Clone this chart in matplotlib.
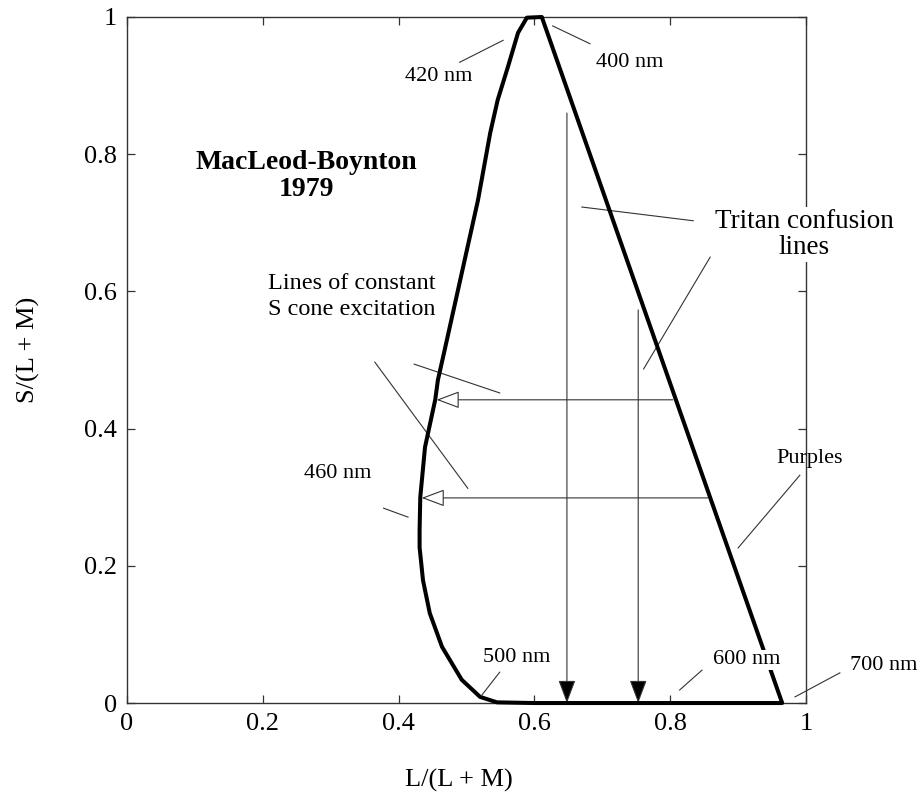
import matplotlib
matplotlib.use("Agg")
import matplotlib.pyplot as plt

plt.rcParams['font.family'] = ['Liberation Serif', 'DejaVu Serif']

# spectral locus, 400 nm at the top, down the left side and along the bottom to 700 nm
locus_x = [0.611, 0.589, 0.576, 0.561, 0.546, 0.535, 0.517, 0.468, 0.458, 0.454,
           0.439, 0.432, 0.431, 0.431, 0.436, 0.446, 0.464, 0.493, 0.520, 0.545,
           0.600, 0.700, 0.800, 0.900, 0.965]
locus_y = [1.000, 0.999, 0.977, 0.927, 0.879, 0.831, 0.733, 0.515, 0.471, 0.442,
           0.373, 0.300, 0.252, 0.227, 0.179, 0.131, 0.082, 0.034, 0.009, 0.001,
           0.0, 0.0, 0.0, 0.0, 0.0]

# line of purples (700 nm back to 400 nm)
purple_x = [0.965, 0.611]
purple_y = [0.0, 1.0]

# tritan confusion lines (vertical, arrow down to the axis)
tritan_x = [0.648, 0.753]
tritan_top = [0.86, 0.573]

# lines of constant S cone excitation (horizontal, arrow to the locus)
s_level = [0.442, 0.299]
s_start = [0.804, 0.856]
s_end = [0.456, 0.434]

ticks = [0, 0.2, 0.4, 0.6, 0.8, 1]
tick_labels = ['0', '0.2', '0.4', '0.6', '0.8', '1']

# labels: text, text position, leader line (from, to)
labels = [
    ('420 nm', (0.459, 0.913), (0.490, 0.934), (0.554, 0.966)),
    ('400 nm', (0.741, 0.934), (0.682, 0.961), (0.627, 0.987)),
    ('460 nm', (0.311, 0.335), (0.378, 0.284), (0.414, 0.271)),
    ('500 nm', (0.574, 0.067), (0.549, 0.045), (0.523, 0.012)),
    ('600 nm', (0.913, 0.063), (0.847, 0.048), (0.814, 0.019)),
    ('700 nm', (1.115, 0.054), (1.050, 0.044), (0.984, 0.009)),
    ('Purples', (1.006, 0.357), (0.991, 0.332), (0.900, 0.226)),
]

fig = plt.figure(figsize=(9.22, 7.98), dpi=100)
ax = fig.add_axes([0.1377, 0.119, 0.7364, 0.8597])

ink = '#333333'

ax.plot(locus_x, locus_y, color='black', lw=2.9, solid_capstyle='round',
        solid_joinstyle='round', clip_on=False, zorder=5)
ax.plot(purple_x, purple_y, color='black', lw=2.9, solid_capstyle='butt',
        clip_on=False, zorder=5)

for x, top in zip(tritan_x, tritan_top):
    ax.annotate('', xy=(x, 0), xytext=(x, top),
                arrowprops=dict(arrowstyle='-|>,head_length=0.72,head_width=0.27',
                                mutation_scale=20, color=ink, lw=0.8,
                                fc='black', shrinkA=0, shrinkB=0), zorder=4)

for y, x0, x1 in zip(s_level, s_start, s_end):
    ax.annotate('', xy=(x1, y), xytext=(x0, y),
                arrowprops=dict(arrowstyle='-|>,head_length=0.72,head_width=0.27',
                                mutation_scale=20, ec=ink, lw=0.8,
                                fc='white', shrinkA=0, shrinkB=0), zorder=6)

for text, pos, a, b in labels:
    bbox = None
    if text == '600 nm':
        bbox = dict(fc='white', ec='none', pad=0.5)
    ax.text(pos[0], pos[1], text, fontsize=16, ha='center', va='center',
            bbox=bbox, zorder=7, clip_on=False)
    ax.plot([a[0], b[0]], [a[1], b[1]], color=ink, lw=0.8, clip_on=False)

ax.text(0.264, 0.768, 'MacLeod-Boynton\n1979', fontsize=20, fontweight='bold',
        ha='center', va='center', linespacing=1.1)

ax.text(0.997, 0.683, 'Tritan confusion\nlines', fontsize=19.5, ha='center',
        va='center', linespacing=1.1, clip_on=False, zorder=10,
        bbox=dict(fc='white', ec='none', pad=1))
ax.plot([0.670, 0.834], [0.723, 0.703], color=ink, lw=0.8)
ax.plot([0.859, 0.761], [0.650, 0.487], color=ink, lw=0.8)

ax.text(0.331, 0.593, 'Lines of constant\nS cone excitation', fontsize=17.5,
        ha='center', va='center', linespacing=1.3)
ax.plot([0.423, 0.549], [0.494, 0.452], color=ink, lw=0.8)
ax.plot([0.365, 0.502], [0.497, 0.313], color=ink, lw=0.8)

ax.set_xlim(0, 1)
ax.set_ylim(0, 1)
ax.set_xticks(ticks)
ax.set_xticklabels(tick_labels)
ax.set_yticks(ticks)
ax.set_yticklabels(tick_labels)
ax.tick_params(direction='in', length=6, width=0.9, color=ink, labelsize=19,
               top=True, right=True, pad=7)
for s in ax.spines.values():
    s.set_color(ink)
    s.set_linewidth(1.0)

fig.text(28 / 922, 1 - 350 / 798, 'S/(L + M)', rotation=90, fontsize=19,
         ha='center', va='center')
fig.text(459 / 922, 1 - 780 / 798, 'L/(L + M)', fontsize=19,
         ha='center', va='center')

fig.savefig('out.png', dpi=100)
